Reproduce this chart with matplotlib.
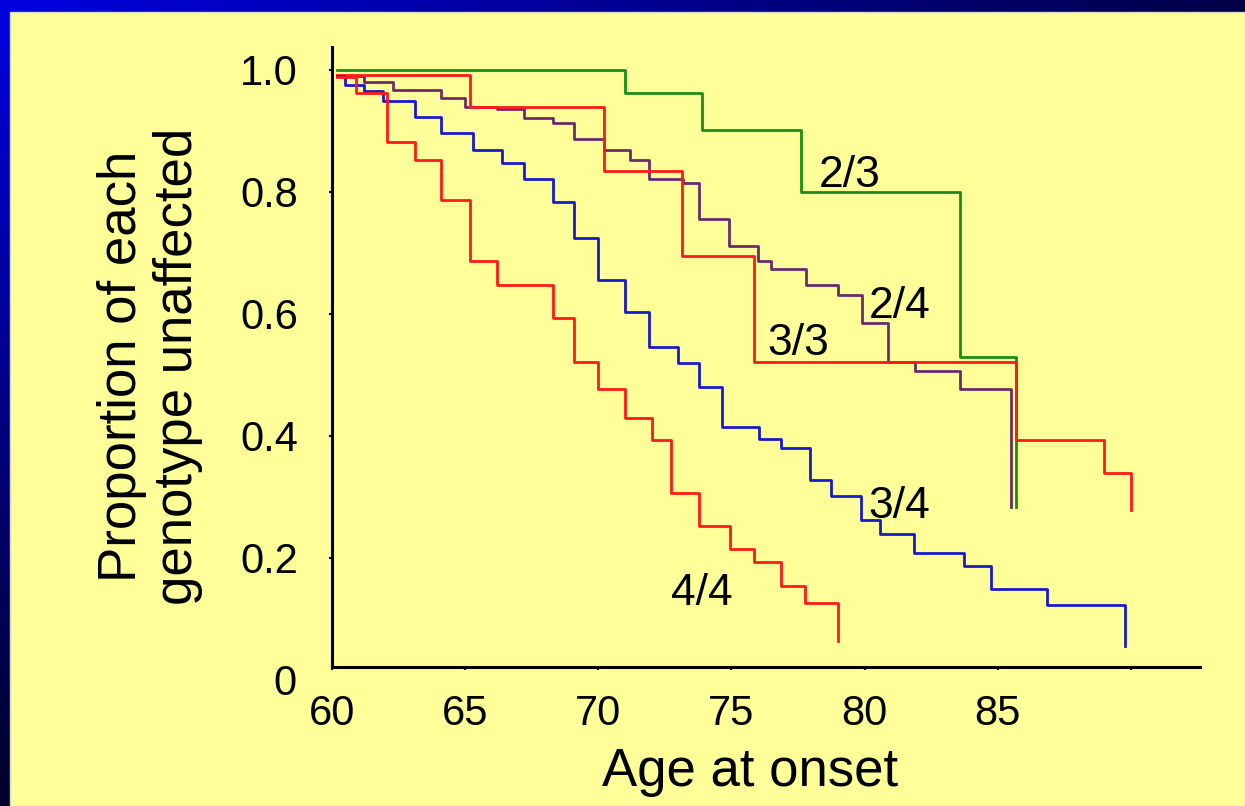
import numpy as np
import matplotlib.pyplot as plt

plt.rcParams['font.family'] = ['Liberation Sans', 'DejaVu Sans']

# Kaplan-Meier style curves: event ages and proportion unaffected after each step
age_23 = [60.2, 71.0, 73.9, 77.6, 83.6, 85.7]
prop_23 = [1.0, 0.962, 0.902, 0.80, 0.53, 0.284]

age_24 = [60.2, 61.2, 62.3, 64.1, 65.0, 66.2, 67.2, 68.3, 69.1, 70.2, 71.2, 71.9,
          73.2, 73.8, 74.9, 76.0, 76.5, 77.8, 79.0, 79.9, 80.9, 81.9, 83.6, 85.5]
prop_24 = [0.99, 0.98, 0.967, 0.954, 0.94, 0.936, 0.922, 0.913, 0.887, 0.869, 0.852, 0.821,
           0.814, 0.756, 0.712, 0.687, 0.673, 0.648, 0.631, 0.586, 0.521, 0.507, 0.477, 0.283]

age_33 = [60.2, 65.2, 70.2, 73.15, 75.85, 85.7, 89.0, 90.0]
prop_33 = [0.992, 0.94, 0.834, 0.695, 0.521, 0.393, 0.34, 0.279]

age_34 = [60.2, 60.5, 61.2, 61.9, 63.1, 64.1, 65.3, 66.4, 67.2, 68.3, 69.1, 70.0, 71.0,
          71.9, 73.0, 73.8, 74.65, 76.05, 76.85, 77.95, 78.75, 79.85, 80.6, 81.85, 83.75,
          84.75, 86.85, 89.8]
prop_34 = [0.99, 0.975, 0.966, 0.949, 0.923, 0.896, 0.869, 0.848, 0.821, 0.784, 0.725, 0.656,
           0.604, 0.546, 0.52, 0.481, 0.414, 0.395, 0.381, 0.328, 0.302, 0.262, 0.24, 0.209,
           0.187, 0.149, 0.123, 0.055]

age_44 = [60.2, 60.9, 62.05, 63.1, 64.1, 65.2, 66.2, 68.3, 69.1, 70.0, 71.0, 72.0, 72.75,
          73.8, 74.95, 75.85, 76.85, 77.75, 79.0]
prop_44 = [0.989, 0.962, 0.882, 0.852, 0.787, 0.687, 0.648, 0.594, 0.521, 0.477, 0.429, 0.393,
           0.307, 0.253, 0.215, 0.193, 0.154, 0.127, 0.064]

series = [
    ('2/3', age_23, prop_23, '#1a8c1a', (79.45, 0.808)),
    ('2/4', age_24, prop_24, '#6b2a6b', (81.3, 0.593)),
    ('3/3', age_33, prop_33, '#ff1a1a', (77.5, 0.533)),
    ('3/4', age_34, prop_34, '#1a1acc', (81.3, 0.266)),
    ('4/4', age_44, prop_44, '#ff1a1a', (73.9, 0.123)),
]

fig = plt.figure(figsize=(12.45, 8.06), dpi=100)

# blue slide frame with a gradient, yellow panel on top
bg = fig.add_axes([0, 0, 1, 1], zorder=-10)
xx, yy = np.meshgrid(np.linspace(0, 1, 200), np.linspace(0, 1, 200))
b = np.clip(0.88 - 0.6 * xx - 0.72 * yy, 0.12, 1)
grad = np.dstack([np.zeros_like(b), np.zeros_like(b), b])
bg.imshow(grad, extent=[0, 1, 0, 1], origin='upper', aspect='auto')
bg.add_patch(plt.Rectangle((10 / 1245, 0), 1, 1 - 12 / 806, color='#ffff99', ec='#d8d8c0', lw=1))
bg.set_xlim(0, 1)
bg.set_ylim(0, 1)
bg.axis('off')

ax = fig.add_axes([332 / 1245, 1 - 667 / 806, 868 / 1245, 620 / 806])
ax.set_facecolor('none')

for name, ages, props, col, (tx, ty) in series:
    ax.plot(ages, props, drawstyle='steps-post', color=col, lw=2)
    ax.text(tx, ty, name, ha='center', va='baseline', fontsize=32, color='black')

ax.set_xlim(60, 92.6)
ax.set_ylim(0.0213, 1.0377)
ax.spines['top'].set_visible(False)
ax.spines['right'].set_visible(False)
ax.spines['left'].set_linewidth(2.2)
ax.spines['bottom'].set_linewidth(2.2)

ax.set_xticks([60, 65, 70, 75, 80, 85, 90])
ax.set_xticklabels(['60', '65', '70', '75', '80', '85', ''])
ax.set_yticks([0.2, 0.4, 0.6, 0.8, 1.0])
ax.set_yticklabels(['0.2', '0.4', '0.6', '0.8', '1.0'])
ax.tick_params(axis='x', length=2.5, width=1.5, pad=17, labelsize=30)
ax.tick_params(axis='y', length=2.5, width=1.5, pad=22, labelsize=30)
ax.text(-0.041, -0.006, '0', transform=ax.get_yaxis_transform(), ha='right', va='center',
        fontsize=30, clip_on=False)

fig.text(150 / 1245, 1 - 366 / 806, 'Proportion of each\ngenotype unaffected',
         rotation=90, ha='center', va='center', fontsize=38, multialignment='center',
         linespacing=1.15)
fig.text(750 / 1245, 1 - 772 / 806, 'Age at onset', ha='center', va='center', fontsize=38)

plt.savefig('out.png', dpi=100)
